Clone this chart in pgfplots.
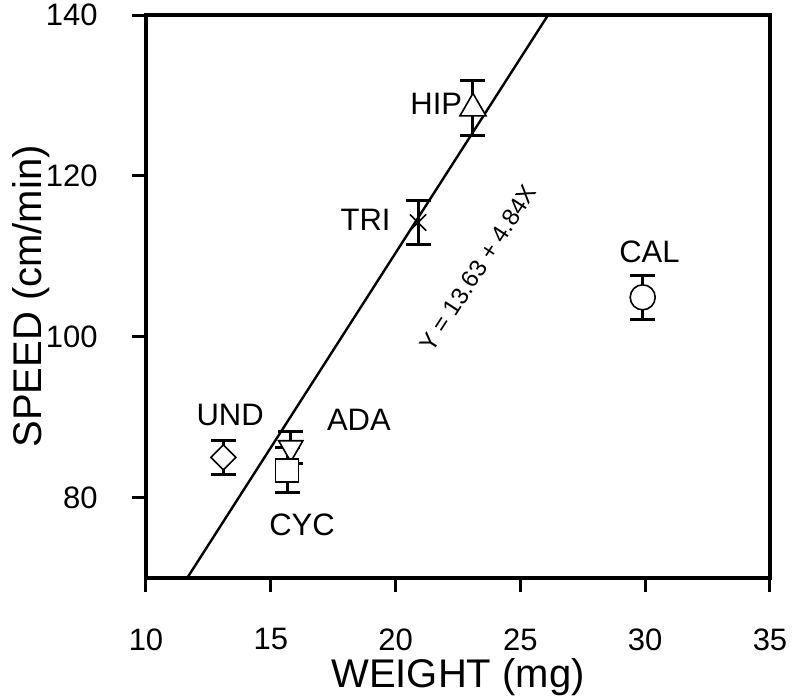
\documentclass[border=0pt]{standalone}
\usepackage{fontspec}
\setmainfont{Liberation Sans}
\usepackage{pgfplots}
\pgfplotsset{compat=1.18}
\usepackage{pgfplotstable}
% weight (mg), speed (cm/min), error; rows: UND, ADA, CYC, TRI, HIP, CAL
\pgfplotstableread{
x y err
13.1 85.0 2.1
15.8 86.2 2.0
15.65 83.4 2.8
20.9 114.2 2.7
23.1 128.4 3.4
29.9 104.9 2.7
}\datatable
\begin{document}
\begin{tikzpicture}
\begin{axis}[
 at={(0,0)}, anchor=south west,
 scale only axis, width=312pt, height=281.5pt,
 xmin=10, xmax=35, ymin=70, ymax=140,
 xtick={10,15,...,35}, ytick={80,100,120,140},
 axis line style={line width=2pt},
 tick style={line width=1.5pt, black},
 tick align=outside, major tick length=7pt,
 xtick pos=bottom, ytick pos=left,
 /pgf/number format/assume math mode=true,
 ticklabel style={font=\fontsize{15.5}{18}\selectfont},
 xticklabel style={anchor=north, inner sep=0pt, yshift=-18pt},
 yticklabel style={anchor=east, inner sep=0pt, xshift=-17pt},
 xlabel={WEIGHT (mg)}, ylabel={SPEED (cm/min)},
 label style={font=\fontsize{20}{24}\selectfont},
 xlabel style={at={(axis description cs:0.5,-0.195)}, anchor=base},
 ylabel style={at={(axis description cs:-0.1667,0.5)}, anchor=base},
 clip=false,
]
\addplot[line width=1.2pt, black, mark=none] coordinates {(11.65,70) (26.11,140)};
% error bars for all six species
\addplot[draw=none, mark=none, error bars/.cd, y dir=both, y explicit,
    error bar style={line width=1.5pt, draw=black},
    error mark=|,
    error mark options={line width=1.5pt, mark size=6.25pt, draw=black}]
  table[x=x, y=y, y error=err]{\datatable};
% markers on top (white filled)
\addplot[only marks, mark=square*, mark size=4.4pt,
  mark options={rotate=45, fill=white, draw=black, line width=0.8pt}]
  table[x=x, y=y, skip coords between index={1}{6}]{\datatable};
\addplot[only marks, mark=triangle*, mark size=7pt,
  mark options={rotate=180, fill=white, draw=black, line width=0.8pt}]
  table[x=x, y=y, skip coords between index={0}{1}, skip coords between index={2}{6}]{\datatable};
\addplot[only marks, mark=square*, mark size=5.75pt,
  mark options={fill=white, draw=black, line width=0.8pt}]
  table[x=x, y=y, skip coords between index={0}{2}, skip coords between index={3}{6}]{\datatable};
\addplot[only marks, mark=x, mark size=5.75pt,
  mark options={draw=black, line width=0.8pt}]
  table[x=x, y=y, skip coords between index={0}{3}, skip coords between index={4}{6}]{\datatable};
\addplot[only marks, mark=triangle*, mark size=7.5pt,
  mark options={fill=white, draw=black, line width=0.8pt}]
  table[x=x, y=y, skip coords between index={0}{4}, skip coords between index={5}{6}]{\datatable};
\addplot[only marks, mark=*, mark size=6.25pt,
  mark options={fill=white, draw=black, line width=0.8pt}]
  table[x=x, y=y, skip coords between index={0}{5}]{\datatable};
\node[font=\fontsize{15.5}{18}\selectfont] at (axis cs:13.37,90.3) {UND};
\node[font=\fontsize{15.5}{18}\selectfont] at (axis cs:18.53,89.65) {ADA};
\node[font=\fontsize{15.5}{18}\selectfont] at (axis cs:16.25,76.6) {CYC};
\node[font=\fontsize{15.5}{18}\selectfont] at (axis cs:21.63,129.0) {HIP};
\node[font=\fontsize{15.5}{18}\selectfont] at (axis cs:18.8,114.5) {TRI};
\node[font=\fontsize{15.5}{18}\selectfont] at (axis cs:30.17,110.6) {CAL};
\node[rotate=57, font=\fontsize{12}{14}\selectfont] at (axis cs:23.3,108.5) {Y = 13.63 + 4.84X};
\end{axis}
\pgfresetboundingbox
\path (-73pt,-59.5pt) rectangle (323.5pt,289pt);
\end{tikzpicture}
\end{document}
